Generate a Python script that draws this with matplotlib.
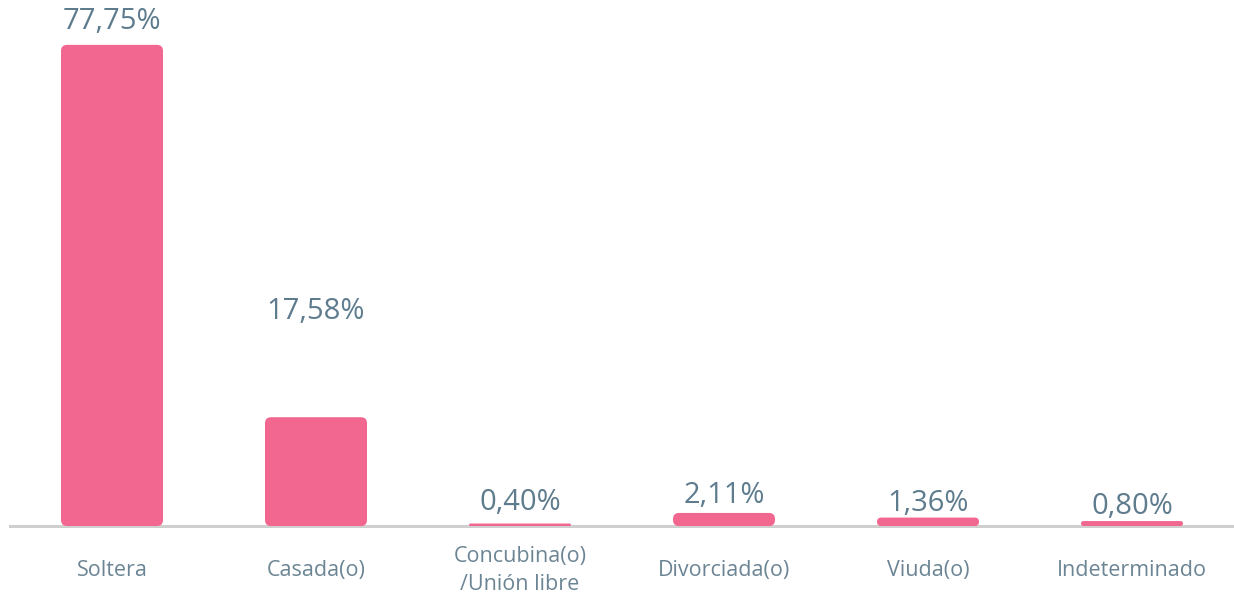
import numpy as np
import matplotlib.pyplot as plt
from matplotlib.patches import FancyBboxPatch

# datos
categorias = ["Soltera", "Casada(o)", "Concubina(o)\n/Unión libre",
              "Divorciada(o)", "Viuda(o)", "Indeterminado"]
valores = [77.75, 17.58, 0.40, 2.11, 1.36, 0.80]
etiquetas = ["77,75%", "17,58%", "0,40%", "2,11%", "1,36%", "0,80%"]

# separacion de cada etiqueta sobre su barra (pixeles)
desplaz = [16, 98, 14, 10, 7, 7]

rosa = "#F26790"
gris_texto = "#5E7C8E"
gris_cat = "#6C8594"

plt.rcParams['font.family'] = ['Open Sans', 'DejaVu Sans']

W, H = 1234, 599
fig = plt.figure(figsize=(W / 100, H / 100), dpi=100)
ax = fig.add_axes([10 / W, (H - 526) / H, 1 - 10 / W, 526 / H])

x = np.arange(len(categorias))
ancho = 0.5
ymax = 85.0
ax.set_xlim(-0.5, len(categorias) - 0.5)
ax.set_ylim(0, ymax)

# escala pixeles por unidad
px_x = ax.bbox.width / len(categorias)
px_y = ax.bbox.height / ymax
aspecto = px_x / px_y
radio_px = 6

for xi, v in zip(x, valores):
    r = radio_px / px_x
    r = min(r, (v / 2) / aspecto)
    caja = FancyBboxPatch((xi - ancho / 2, 0), ancho, v,
                          boxstyle=f"round,pad=0,rounding_size={r}",
                          mutation_aspect=aspecto,
                          facecolor=rosa, edgecolor='none', zorder=2)
    ax.add_patch(caja)

for xi, v, t, d in zip(x, valores, etiquetas, desplaz):
    ax.annotate(t, (xi, v), xytext=(0, d * 0.72), textcoords='offset points',
                ha='center', va='baseline', fontsize=21, color=gris_texto)

ax.axhline(0, color="#CFCFCF", lw=2.2, zorder=1, clip_on=False)

for s in ax.spines.values():
    s.set_visible(False)
ax.set_yticks([])
ax.set_xticks(x)
ax.set_xticklabels(categorias, fontsize=15.5, color=gris_cat, linespacing=1.45,
                   va='center')
ax.tick_params(axis='x', length=0, pad=32)

fig.savefig("out.png", dpi=100)
